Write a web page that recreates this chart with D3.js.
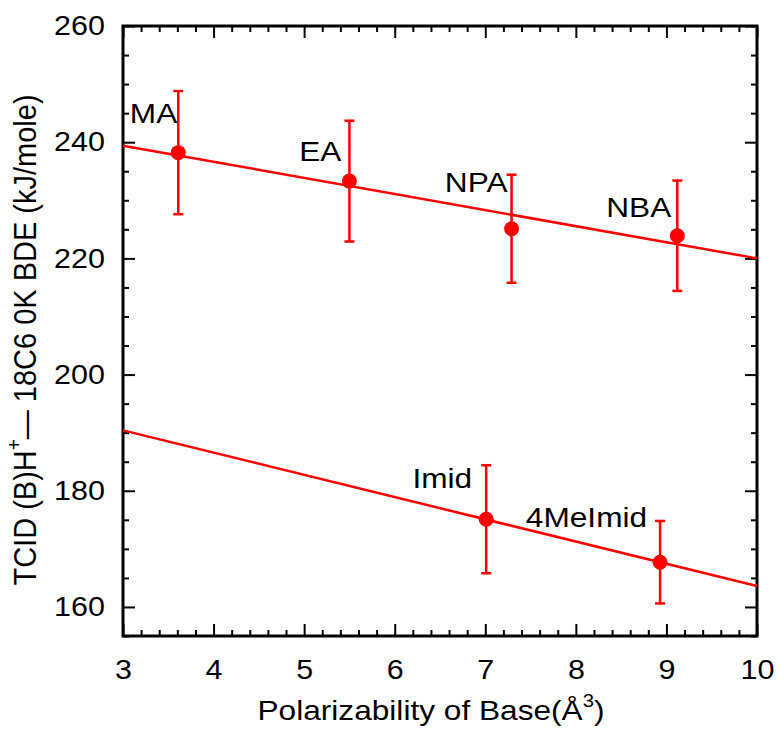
<!DOCTYPE html>
<html>
<head>
<meta charset="utf-8">
<script src="https://cdn.jsdelivr.net/npm/d3@7"></script>
<style>
  body { margin: 0; background: #fff; }
  svg text { font-family: "Liberation Sans", Arial, sans-serif; fill: #000; }
</style>
</head>
<body>
<svg id="chart" width="779" height="729"></svg>
<script>
// data
const bases = ["MA", "EA", "NPA", "NBA", "Imid", "4MeImid"];
const polarizability = [3.61, 5.50, 7.29, 9.12, 7.01, 8.93];
const bde = [238.2, 233.3, 225.1, 223.9, 175.1, 167.7];
const bdeErr = [10.6, 10.4, 9.3, 9.5, 9.3, 7.1];

// linear fits (end points at x = 3 and x = 10)
const fitX = [3, 10];
const fitAmines = [239.4, 220.0];
const fitImidazoles = [190.4, 163.6];

const xTicks = [3, 4, 5, 6, 7, 8, 9, 10];
const yTicks = [160, 180, 200, 220, 240, 260];

// label offsets from the point (px) - styling only
const labelOffsets = [[-1, -30], [-8, -20], [-4, -37], [-6, -19], [-14, -31], [-13, -35]];

const svg = d3.select("#chart");
const margin = {top: 26, right: 22, bottom: 93, left: 123};
const width = 779 - margin.left - margin.right;
const height = 729 - margin.top - margin.bottom;
const red = "#ff0000";
const stretch = "scale(1.13,1)";   // the original's lettering is a bit wide

const g = svg.append("g")
    .attr("transform", "translate(" + margin.left + "," + margin.top + ")");

const x = d3.scaleLinear().domain([3, 10]).range([0, width]);
const y = d3.scaleLinear().domain([155, 260]).range([height, 0]);

const xMinor = d3.range(3, 10.001, 0.2).filter(v => Math.abs(v - Math.round(v)) > 0.01);
const yMinor = d3.range(155, 260, 5).filter(v => v % 20 != 0);

// bottom axis
g.append("g")
    .attr("transform", "translate(0," + height + ")")
    .call(d3.axisBottom(x).tickValues(xTicks).tickSize(-12).tickPadding(24).tickFormat(d3.format("d")))
    .call(a => a.select(".domain").remove())
    .call(a => a.selectAll("text").attr("font-size", 27).attr("transform", stretch));
g.append("g")
    .attr("transform", "translate(0," + height + ")")
    .call(d3.axisBottom(x).tickValues(xMinor).tickSize(-6).tickFormat(""))
    .call(a => a.select(".domain").remove());

// top axis (mirror)
g.append("g")
    .call(d3.axisTop(x).tickValues(xTicks).tickSize(-12).tickFormat(""))
    .call(a => a.select(".domain").remove());
g.append("g")
    .call(d3.axisTop(x).tickValues(xMinor).tickSize(-6).tickFormat(""))
    .call(a => a.select(".domain").remove());

// left axis
g.append("g")
    .call(d3.axisLeft(y).tickValues(yTicks).tickSize(-12).tickPadding(16))
    .call(a => a.select(".domain").remove())
    .call(a => a.selectAll("text").attr("font-size", 27).attr("transform", stretch));
g.append("g")
    .call(d3.axisLeft(y).tickValues(yMinor).tickSize(-6).tickFormat(""))
    .call(a => a.select(".domain").remove());

// right axis (mirror)
g.append("g")
    .attr("transform", "translate(" + width + ",0)")
    .call(d3.axisRight(y).tickValues(yTicks).tickSize(-12).tickFormat(""))
    .call(a => a.select(".domain").remove());
g.append("g")
    .attr("transform", "translate(" + width + ",0)")
    .call(d3.axisRight(y).tickValues(yMinor).tickSize(-6).tickFormat(""))
    .call(a => a.select(".domain").remove());

g.selectAll(".tick line").attr("stroke", "#000").attr("stroke-width", 2);

// frame
g.append("rect")
    .attr("width", width)
    .attr("height", height)
    .attr("fill", "none")
    .attr("stroke", "#000")
    .attr("stroke-width", 3);

// fit lines
const line = d3.line().x(d => x(d[0])).y(d => y(d[1]));
[fitAmines, fitImidazoles].forEach(f => {
    g.append("path")
        .datum(fitX.map((v, i) => [v, f[i]]))
        .attr("d", line)
        .attr("fill", "none")
        .attr("stroke", red)
        .attr("stroke-width", 2.5);
});

const pts = bases.map((b, i) => ({name: b, x: polarizability[i], y: bde[i], e: bdeErr[i], off: labelOffsets[i]}));

// error bars
const eb = g.selectAll(".err").data(pts).enter().append("g").attr("class", "err")
    .attr("stroke", red).attr("stroke-width", 2.5);
eb.append("line")
    .attr("x1", d => x(d.x)).attr("x2", d => x(d.x))
    .attr("y1", d => y(d.y - d.e)).attr("y2", d => y(d.y + d.e));
eb.append("line")
    .attr("x1", d => x(d.x) - 5).attr("x2", d => x(d.x) + 5)
    .attr("y1", d => y(d.y + d.e)).attr("y2", d => y(d.y + d.e));
eb.append("line")
    .attr("x1", d => x(d.x) - 5).attr("x2", d => x(d.x) + 5)
    .attr("y1", d => y(d.y - d.e)).attr("y2", d => y(d.y - d.e));

// points
g.selectAll(".dot").data(pts).enter().append("circle")
    .attr("class", "dot")
    .attr("cx", d => x(d.x))
    .attr("cy", d => y(d.y))
    .attr("r", 7.5)
    .attr("fill", red);

// point labels
g.selectAll(".lbl").data(pts).enter().append("text")
    .attr("class", "lbl")
    .attr("transform", d => "translate(" + (x(d.x) + d.off[0]) + "," + (y(d.y) + d.off[1]) + ") " + stretch)
    .attr("text-anchor", "end")
    .attr("font-size", 28)
    .text(d => d.name);

// axis titles
const xt = svg.append("text")
    .attr("transform", "translate(431,720) " + stretch)
    .attr("text-anchor", "middle")
    .attr("font-size", 28);
xt.append("tspan").text("Polarizability of Base(Å");
xt.append("tspan").attr("font-size", 18).attr("dy", -13).text("3");
xt.append("tspan").attr("dy", 13).text(")");

const yt = svg.append("text")
    .attr("transform", "translate(36,340) rotate(-90) scale(1,1.1)")
    .attr("text-anchor", "middle")
    .attr("font-size", 29);
yt.append("tspan").text("TCID (B)H");
yt.append("tspan").attr("font-size", 19).attr("dy", -14).text("+");
yt.append("tspan").attr("dy", 14).text("— 18C6 0K BDE (kJ/mole)");
</script>
</body>
</html>
